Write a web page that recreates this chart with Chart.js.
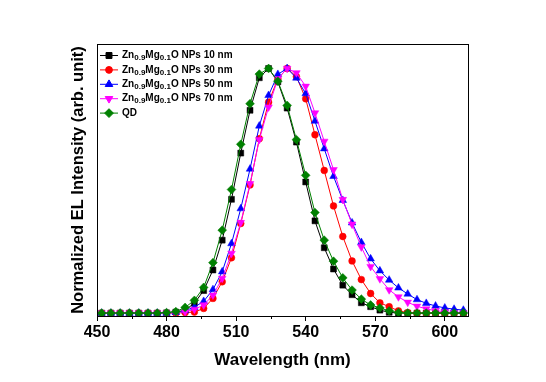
<!DOCTYPE html>
<html>
<head>
<meta charset="utf-8">
<script src="https://cdn.jsdelivr.net/npm/chart.js@4.4.1/dist/chart.umd.min.js"></script>
<style>
  html, body { margin: 0; padding: 0; background: #fff; }
  canvas { display: block; }
</style>
</head>
<body>
<canvas id="c" width="546" height="382"></canvas>
<script>
// ---- data ----
const wavelength = [452,456,460,464,468,472,476,480,484,488,492,496,500,504,508,512,516,520,524,528,532,536,540,544,548,552,556,560,564,568,572,576,580,584,588,592,596,600,604,608];

const np10 = [0,0,0,0,0,0,0,0.001,0.004,0.012,0.040,0.092,0.176,0.298,0.465,0.654,0.829,0.962,1.0,0.945,0.838,0.699,0.536,0.377,0.267,0.180,0.114,0.075,0.042,0.026,0.012,0.003,0,0,0,0,0,0,0,0];
const np30 = [0,0,0,0,0,0,0,0,0,0.002,0.004,0.019,0.060,0.128,0.226,0.366,0.524,0.713,0.862,0.958,1.0,0.967,0.876,0.729,0.583,0.438,0.313,0.213,0.137,0.080,0.042,0.026,0.009,0.002,0,0,0,0,0,0];
const np50 = [0,0,0,0,0,0,0,0,0.003,0.010,0.024,0.048,0.096,0.169,0.284,0.427,0.589,0.765,0.890,0.976,1.0,0.961,0.897,0.785,0.672,0.559,0.461,0.369,0.289,0.222,0.173,0.135,0.103,0.078,0.055,0.040,0.029,0.021,0.016,0.012];
const np70 = [0,0,0,0,0,0,0,0,0.002,0.005,0.015,0.033,0.073,0.142,0.244,0.370,0.529,0.709,0.842,0.958,1.0,0.982,0.927,0.818,0.702,0.586,0.464,0.363,0.270,0.190,0.140,0.095,0.066,0.044,0.028,0.017,0.010,0.005,0.001,0];
const qd   = [0,0,0,0,0,0,0,0.002,0.006,0.023,0.052,0.105,0.206,0.339,0.505,0.690,0.856,0.977,1.0,0.948,0.849,0.709,0.563,0.411,0.298,0.212,0.144,0.094,0.057,0.033,0.021,0.009,0.002,0,0,0,0,0,0,0];

const seriesLabels = ['Zn_{0.9}Mg_{0.1}O NPs 10 nm','Zn_{0.9}Mg_{0.1}O NPs 30 nm','Zn_{0.9}Mg_{0.1}O NPs 50 nm','Zn_{0.9}Mg_{0.1}O NPs 70 nm','QD'];
const xTickValues = [450,480,510,540,570,600];
const xMinorTickValues = [465,495,525,555,585];
const xTitle = 'Wavelength (nm)';
const yTitle = 'Normalized EL Intensity (arb. unit)';

// ---- styles ----
const FONT = 'Liberation Sans, Arial, Helvetica, sans-serif';
Chart.defaults.font.family = FONT;
const styles = [
  {color:'#000000', pointStyle:'rect',     radius:4.2, rotation:0,   order:4},
  {color:'#ff0000', pointStyle:'circle',   radius:3.4, rotation:0,   order:3},
  {color:'#0000ff', pointStyle:'triangle', radius:4.4, rotation:0,   order:2},
  {color:'#ff00ff', pointStyle:'triangle', radius:4.4, rotation:180, order:1},
  {color:'#008000', pointStyle:'rectRot',  radius:4.4, rotation:0,   order:0}
];
const seriesValues = [np10, np30, np50, np70, qd];

const datasets = seriesValues.map((vals, i) => ({
  label: seriesLabels[i].replace(/_\{([^}]*)\}/g, '$1'),
  data: wavelength.map((w, j) => ({x: w, y: vals[j]})),
  borderColor: styles[i].color,
  backgroundColor: styles[i].color,
  borderWidth: 1,
  pointStyle: styles[i].pointStyle,
  pointRadius: styles[i].radius,
  pointRotation: styles[i].rotation,
  pointBackgroundColor: styles[i].color,
  pointBorderColor: styles[i].color,
  pointBorderWidth: 0.5,
  tension: 0,
  order: styles[i].order
}));

const framePlugin = {
  id: 'frame',
  afterDraw(chart) {
    const {ctx, chartArea: a, scales: {x}} = chart;
    ctx.save();
    ctx.strokeStyle = '#000';
    ctx.lineWidth = 1;
    ctx.strokeRect(Math.round(a.left) + 0.5, Math.round(a.top) + 0.5, Math.round(a.right - a.left), Math.round(a.bottom - a.top));
    // minor ticks
    xMinorTickValues.forEach(v => {
      const px = Math.round(x.getPixelForValue(v)) + 0.5;
      ctx.beginPath();
      ctx.moveTo(px, a.bottom);
      ctx.lineTo(px, a.bottom + 3);
      ctx.stroke();
    });
    // legend
    const x0 = a.left + 3, y0 = a.top + 11, dy = 14.4;
    seriesLabels.forEach((lab, i) => {
      const y = y0 + i * dy;
      const s = styles[i];
      ctx.strokeStyle = s.color;
      ctx.fillStyle = s.color;
      ctx.lineWidth = 1;
      ctx.beginPath();
      ctx.moveTo(x0, y + 0.5);
      ctx.lineTo(x0 + 18, y + 0.5);
      ctx.stroke();
      Chart.helpers.drawPoint(ctx, {pointStyle: s.pointStyle, radius: s.radius, rotation: s.rotation, borderWidth: 0.5}, x0 + 9, y + 0.5);
      // text with subscripts
      ctx.fillStyle = '#000';
      ctx.textBaseline = 'middle';
      let tx = x0 + 22;
      const parts = lab.split(/(_\{[^}]*\})/).filter(p => p.length);
      parts.forEach(p => {
        if (p.startsWith('_{')) {
          const t = p.slice(2, -1);
          ctx.font = 'bold 8px ' + FONT;
          ctx.fillText(t, tx, y + 3);
          tx += ctx.measureText(t).width;
        } else {
          ctx.font = 'bold 10px ' + FONT;
          ctx.fillText(p, tx, y + 0.5);
          tx += ctx.measureText(p).width;
        }
      });
    });
    ctx.restore();
  }
};

new Chart(document.getElementById('c'), {
  type: 'line',
  data: { datasets },
  options: {
    responsive: false,
    animation: false,
    layout: { padding: { left: 65, right: 78, top: 44, bottom: 7 } },
    plugins: { legend: { display: false }, tooltip: { enabled: false } },
    scales: {
      x: {
        type: 'linear', min: 450, max: 610,
        afterBuildTicks: s => { s.ticks = xTickValues.map(v => ({ value: v })); },
        afterFit: s => { s.height = 59; },
        ticks: { font: { size: 16, weight: 'bold' }, color: '#000', padding: 2, maxRotation: 0, autoSkip: false },
        grid: { display: true, drawOnChartArea: false, drawTicks: true, tickLength: 5, tickColor: '#000', color: '#000' },
        border: { display: true, color: '#000', width: 1 },
        title: { display: true, text: xTitle, color: '#000', font: { size: 17, weight: 'bold' }, padding: { top: 0, bottom: 4 } }
      },
      y: {
        min: -0.012, max: 1.1,
        afterFit: s => { s.width = 32; },
        ticks: { display: false },
        grid: { display: false, drawTicks: false },
        border: { display: true, color: '#000', width: 1 },
        title: { display: true, text: yTitle, color: '#000', font: { size: 16.5, weight: 'bold' }, padding: { top: 4, bottom: 0 } }
      }
    }
  },
  plugins: [framePlugin]
});
</script>
</body>
</html>
